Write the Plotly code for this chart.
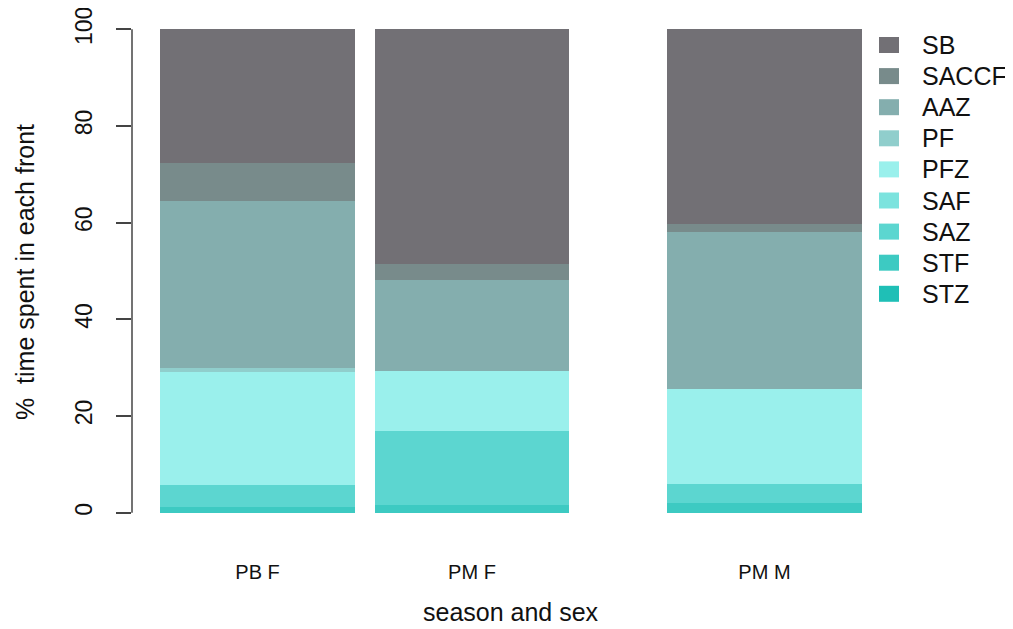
import plotly.graph_objects as go

# ---- data ----
groups = ["PB F", "PM F", "PM M"]
fronts = ["STZ", "STF", "SAZ", "SAF", "PFZ", "PF", "AAZ", "SACCF", "SB"]  # bottom -> top
STZ = [0.0, 0.0, 0.0]
STF = [1.2, 1.6, 2.0]
SAZ = [4.6, 15.3, 4.0]
SAF = [0.0, 0.0, 0.0]
PFZ = [23.4, 12.4, 19.6]
PF = [0.7, 0.0, 0.0]
AAZ = [34.6, 18.8, 32.5]
SACCF = [7.8, 3.4, 1.6]
SB = [27.7, 48.5, 40.3]
values = {"STZ": STZ, "STF": STF, "SAZ": SAZ, "SAF": SAF, "PFZ": PFZ,
          "PF": PF, "AAZ": AAZ, "SACCF": SACCF, "SB": SB}
y_ticks = [0, 20, 40, 60, 80, 100]

# ---- styles ----
colors = {"SB": "#727075", "SACCF": "#788b8b", "AAZ": "#84aeae", "PF": "#90cecc",
          "PFZ": "#9af0ec", "SAF": "#7ce3de", "SAZ": "#5cd6d0", "STF": "#3dcac2",
          "STZ": "#1fbfb6"}
spaces = [0.1, 0.1, 0.5]  # R barplot-style gaps before each bar (in bar widths)
bar_w = 1.0
FONT = "Liberation Sans, Arial, Helvetica, sans-serif"

# bar centres computed from spacing
centers = []
pos = 0.0
for s in spaces:
    pos += s
    centers.append(pos + bar_w / 2)
    pos += bar_w
xmin, xmax = spaces[0], pos
pad = 0.04 * (xmax - xmin)

OFF = 8  # default body margin of the page
W, H = 1013 - OFF, 629 - OFF
ml, mt = 132 - OFF, 10 - OFF
pw, ph = 758, 522
mr, mb = W - ml - pw, H - mt - ph

fig = go.Figure()
for f in fronts:
    fig.add_trace(go.Bar(x=centers, y=values[f], width=bar_w, name=f,
                         marker=dict(color=colors[f], line=dict(width=0)),
                         showlegend=False))

def px_to_paper_x(px):
    return (px - OFF - ml) / pw

def px_to_paper_y(py):
    return 1 - (py - OFF - mt) / ph

shapes = [dict(type="line", xref="paper", yref="y", x0=0, x1=0,
               y0=y_ticks[0], y1=y_ticks[-1], line=dict(color="#444", width=1.5))]
annotations = []
# manual legend (top -> bottom)
for i, f in enumerate(reversed(fronts)):
    cy = 45 + 31.1 * i
    shapes.append(dict(type="rect", xref="paper", yref="paper",
                       x0=px_to_paper_x(879), x1=px_to_paper_x(899),
                       y0=px_to_paper_y(cy + 8), y1=px_to_paper_y(cy - 8),
                       fillcolor=colors[f], line=dict(width=0)))
    annotations.append(dict(text=f, xref="paper", yref="paper",
                            x=px_to_paper_x(920), y=px_to_paper_y(cy),
                            xanchor="left", yanchor="middle", showarrow=False,
                            font=dict(size=25, color="#111", family=FONT)))
annotations.append(dict(text="%  time spent in each front", xref="paper", yref="paper",
                        x=px_to_paper_x(25), y=px_to_paper_y(272), textangle=-90,
                        xanchor="center", yanchor="middle", showarrow=False,
                        font=dict(size=25, color="#111", family=FONT)))
annotations.append(dict(text="season and sex", xref="paper", yref="paper",
                        x=px_to_paper_x(511), y=px_to_paper_y(612),
                        xanchor="center", yanchor="middle", showarrow=False,
                        font=dict(size=25, color="#111", family=FONT)))

fig.update_layout(
    barmode="stack",
    width=W, height=H,
    margin=dict(l=ml, r=mr, t=mt, b=mb, autoexpand=False),
    plot_bgcolor="white", paper_bgcolor="white",
    bargap=0,
    shapes=shapes, annotations=annotations,
    font=dict(family=FONT, color="#111"),
)
fig.update_xaxes(range=[xmin - pad, xmax + pad], tickvals=centers, ticktext=groups,
                 showgrid=False, zeroline=False, showline=False, ticks="",
                 tickfont=dict(size=20, family=FONT, color="#111"),
                 ticklabelstandoff=26, automargin=False)
fig.update_yaxes(range=[-4, 104], tickvals=y_ticks, ticks="outside", ticklen=15,
                 tickwidth=1.5, tickcolor="#444", tickangle=-90,
                 showgrid=False, zeroline=False, showline=False,
                 tickfont=dict(size=23, family=FONT, color="#111"),
                 ticklabelstandoff=15, ticklabeloverflow="allow", automargin=False)

fig.write_html("out.html")
